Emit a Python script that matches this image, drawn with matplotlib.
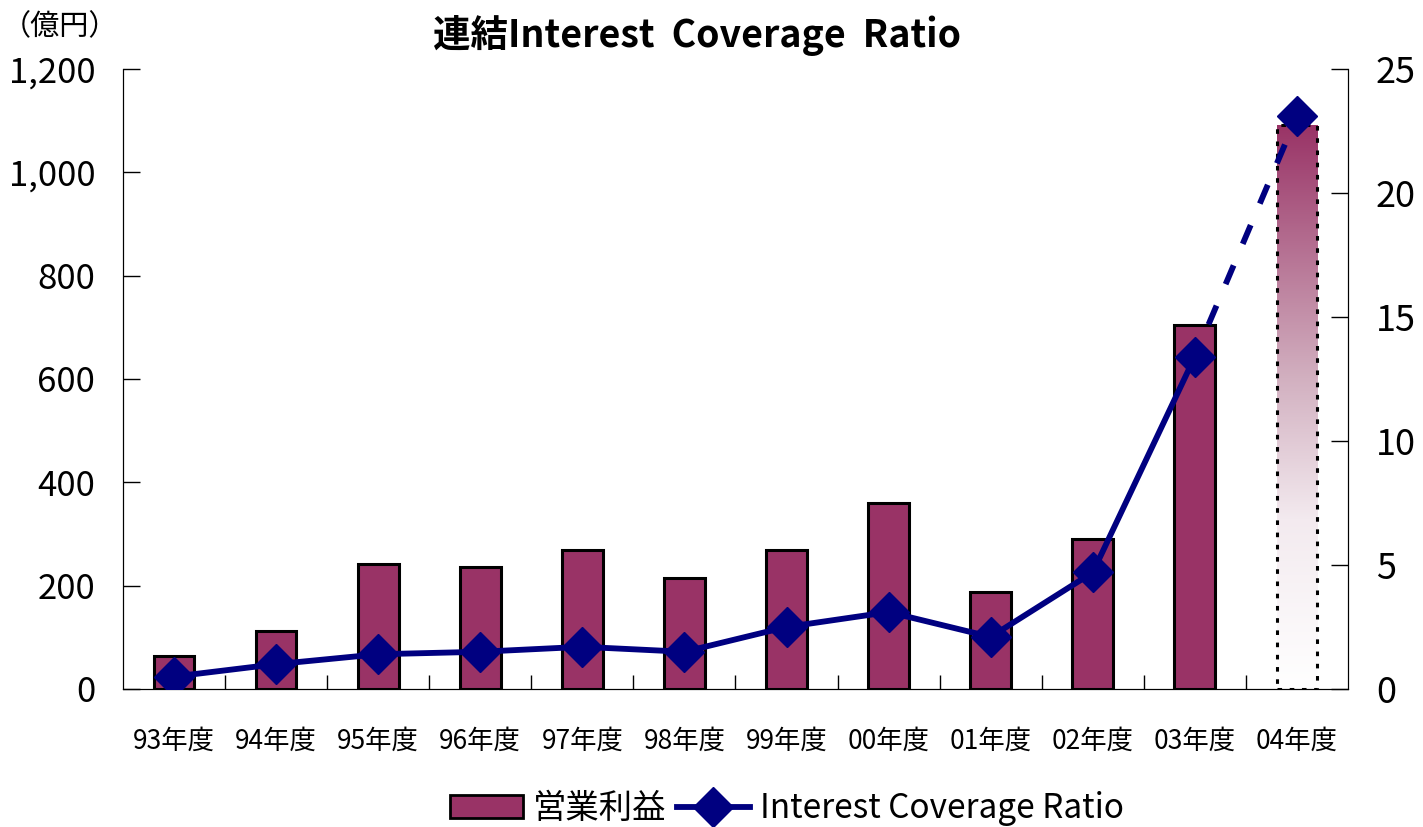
import numpy as np
import matplotlib
matplotlib.use('Agg')
import matplotlib.pyplot as plt
from matplotlib.colors import LinearSegmentedColormap
from matplotlib.lines import Line2D
from matplotlib.patches import Patch

plt.rcParams['font.family'] = ['Noto Sans CJK JP', 'DejaVu Sans']

# data
years = ['93年度', '94年度', '95年度', '96年度', '97年度', '98年度',
         '99年度', '00年度', '01年度', '02年度', '03年度', '04年度']
op_profit = [64, 112, 242, 236, 269, 215, 269, 360, 188, 290, 704, 1092]
icr = [0.5, 1.0, 1.4, 1.5, 1.7, 1.5, 2.5, 3.1, 2.1, 4.7, 13.4, 23.1]

bar_color = '#993366'
line_color = '#000080'

fig = plt.figure(figsize=(14.23, 8.27), dpi=100)
ax1 = fig.add_axes([0.0864, 0.1669, 0.8609, 0.7497])
x = np.arange(len(years))

# actual bars
bars = ax1.bar(x[:-1], op_profit[:-1], width=0.4, color=bar_color,
               edgecolor='black', linewidth=2.2, zorder=2)

# forecast bar: gradient fill with dotted edge
fb = ax1.bar(x[-1], op_profit[-1], width=0.4, color='none',
             edgecolor='black', linewidth=2.2, linestyle=(0, (1.5, 2.5)), zorder=3)
grad_cmap = LinearSegmentedColormap.from_list(
    'g', [(0, '#ffffff'), (0.3, '#f3eaef'), (0.55, '#d2b0c0'), (1, bar_color)])
grad = np.linspace(0, 1, 256).reshape(-1, 1)
im = ax1.imshow(grad, cmap=grad_cmap, origin='lower', aspect='auto',
                extent=[x[-1] - 0.2, x[-1] + 0.2, 0, op_profit[-1]], zorder=2)
im.set_clip_path(fb[0])

ax1.set_xlim(-0.5, len(years) - 0.5)
ax1.set_ylim(0, 1200)
ax1.set_yticks(range(0, 1201, 200))
ax1.set_yticklabels(['{:,}'.format(v) for v in range(0, 1201, 200)], fontsize=25)
ax1.set_xticks(x)
ax1.set_xticklabels(years, fontsize=19)
ax1.set_xticks(np.arange(0.5, len(years) - 1, 1), minor=True)
ax1.tick_params(axis='x', which='major', length=0, pad=28)
ax1.tick_params(axis='x', which='minor', direction='in', length=10, width=1)
ax1.tick_params(axis='y', direction='in', length=12, width=1, pad=20)
ax1.spines['top'].set_visible(False)

ax2 = ax1.twinx()
ax2.set_ylim(0, 25)
ax2.set_yticks(range(0, 26, 5))
ax2.tick_params(axis='y', direction='in', length=12, width=1, labelsize=26, pad=20)
ax2.spines['top'].set_visible(False)

ax2.plot(x[:-1], icr[:-1], color=line_color, linewidth=4.2, marker='D',
         markersize=20, zorder=4)
ax2.plot(x[-2:], icr[-2:], color=line_color, linewidth=4.2,
         linestyle=(1.5, (3.5, 4)), zorder=4)
ax2.plot(x[-1], icr[-1], color=line_color, marker='D', markersize=20, zorder=4)
ax2.set_zorder(ax1.get_zorder() + 1)
ax2.patch.set_visible(False)

fig.text(0.49, 0.957, '連結Interest  Coverage  Ratio', fontsize=27,
         fontweight='bold', ha='center', va='center')
fig.text(0.042, 0.967, '（億円）', fontsize=21, ha='center', va='center')

handles = [Patch(facecolor=bar_color, edgecolor='black', linewidth=2),
           Line2D([], [], color=line_color, linewidth=4.2, marker='D', markersize=20)]
fig.legend(handles, ['営業利益', 'Interest Coverage Ratio'], loc='center',
           bbox_to_anchor=(0.553, 0.022), ncol=2, frameon=False, fontsize=24,
           handlelength=2.2, columnspacing=0.3, handletextpad=0.3)

fig.savefig('out.png', dpi=100)
